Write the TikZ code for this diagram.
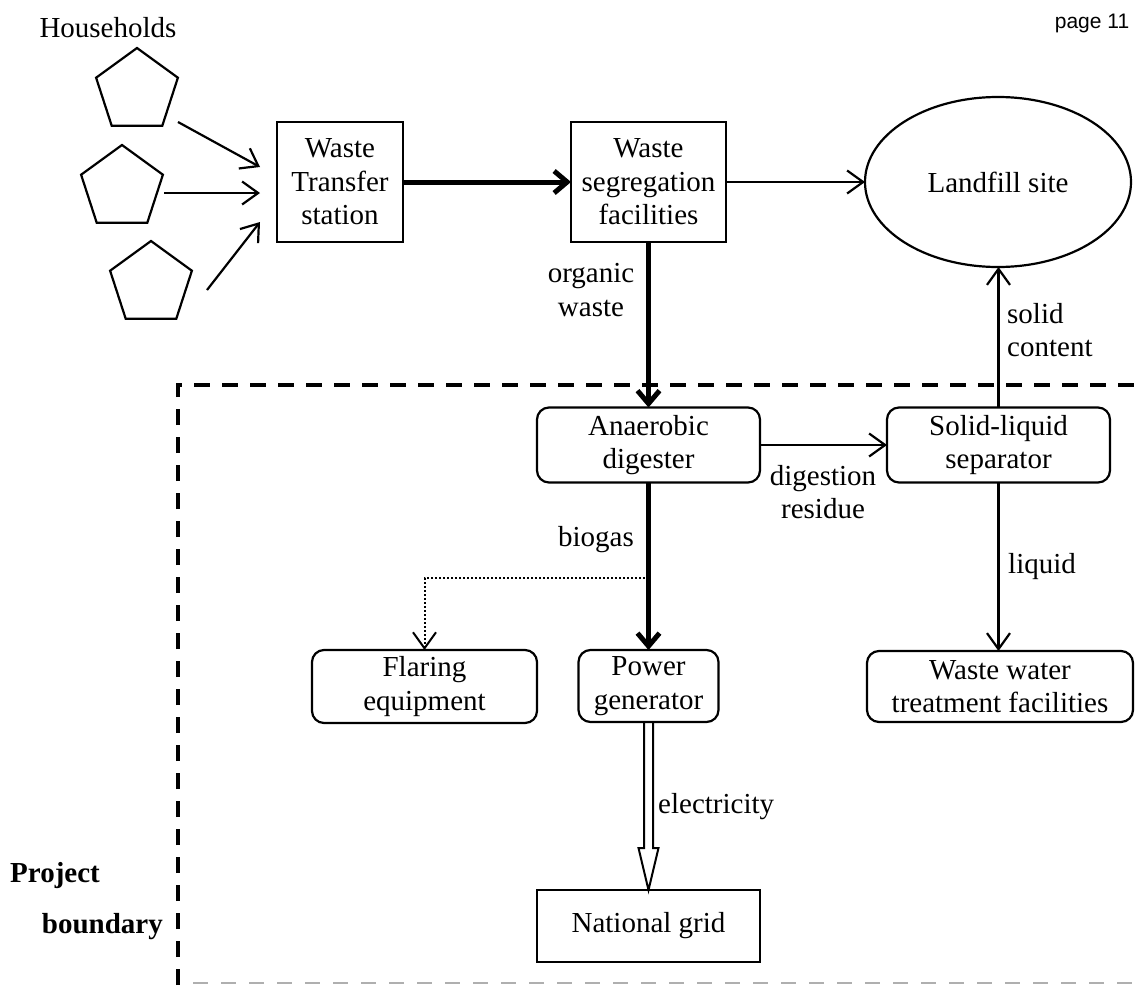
\documentclass[tikz,border=0pt]{standalone}
\usepackage{fontspec}
\setmainfont{Liberation Serif}
\newfontfamily\pagefont{Liberation Sans}
\usetikzlibrary{arrows.meta,shapes.geometric,calc}
\newcommand{\bxfont}{\fontsize{29pt}{33.5pt}\selectfont}
\begin{document}
\begin{tikzpicture}[x=1pt,y=-1pt,
  box/.style={draw, line width=2.2pt, align=center, inner sep=0pt, outer sep=0pt, font=\bxfont},
  rbox/.style={box, rounded corners=12pt},
  house/.style={draw, line width=2.2pt, regular polygon, regular polygon sides=5, minimum size=86pt, inner sep=0pt, outer sep=0pt},
  lbl/.style={align=center, inner sep=0pt, font=\bxfont},
  arr/.style={line width=2.2pt, -{Straight Barb[length=16pt,width=23pt]}},
  bigarr/.style={line width=5pt, -{Straight Barb[length=13pt,width=22pt]}},
  dotarr/.style={line width=2pt, dash pattern=on 2pt off 2pt, -{Straight Barb[length=16pt,width=23pt,line width=2pt]}},
  bound/.style={line width=4.5pt, dash pattern=on 16pt off 12pt},
]
\useasboundingbox (0,0) rectangle (1140,985);

% texts
\node[lbl] (hh) at (108,28) {Households};
\node[inner sep=0pt, font=\pagefont\fontsize{21pt}{24pt}\selectfont] (pg11) at (1092,23) {page 11};

% households
\node[house] (h1) at (137,91) {};
\node[house] (h2) at (122,188) {};
\node[house] (h3) at (151,284) {};

% main nodes
\node[box, minimum width=126pt, minimum height=120pt] (wt) at (340,182) {Waste\\Transfer\\station};
\node[box, minimum width=155pt, minimum height=120pt] (ws) at (648.5,182) {Waste\\segregation\\facilities};
\node[draw, ellipse, line width=2.2pt, minimum width=266pt, minimum height=170pt, inner sep=0pt, outer sep=0pt, font=\bxfont] (lf) at (998,182) {Landfill site};
\node[rbox, minimum width=223pt, minimum height=75pt] (ad) at (648.5,445) {Anaerobic\\digester};
\node[rbox, minimum width=223pt, minimum height=75pt] (sls) at (998.5,445) {Solid-liquid\\separator};
\node[rbox, minimum width=225pt, minimum height=73pt] (fl) at (424.5,686.5) {Flaring\\equipment};
\node[rbox, minimum width=140pt, minimum height=72pt] (pg) at (648.5,686) {Power\\generator};
\node[rbox, minimum width=266pt, minimum height=71pt] (wwt) at (1000,686.5) {Waste water\\treatment facilities};
\node[box, minimum width=223pt, minimum height=72pt] (ng) at (648.5,926) {National grid};

% labels
\node[lbl] (l1) at (591,290) {organic\\waste};
\node[lbl, align=left, anchor=west] (l2) at (1007,330) {solid\\content};
\node[lbl] (l3) at (823,492) {digestion\\residue};
\node[lbl] (l4) at (596,540) {biogas};
\node[lbl, anchor=west] (l5) at (1008,567) {liquid};
\node[lbl, anchor=west] (l6) at (658,807) {electricity};
\node[lbl, anchor=west, font=\bxfont\bfseries] (pb1) at (10,876) {Project};
\node[lbl, anchor=east, font=\bxfont\bfseries] (pb2) at (163,927) {boundary};

% household arrows
\draw[arr] ([shift={(41,31)}]h1.center) -- ([shift={(-17,-15)}]wt.west);
\draw[arr] ([shift={(42,5)}]h2.center) -- ([shift={(-17,11)}]wt.west);
\draw[arr] ([shift={(56,6)}]h3.center) -- ([shift={(-17,40)}]wt.west);

% flows
\draw[bigarr] (wt.east) -- (ws.west);
\draw[arr] (ws.east) -- (lf.west);
\draw[bigarr] (ws.south) -- (ad.north);
\draw[arr] (ad.east) -- (sls.west);
\draw[arr] (sls.north) -- (sls.north |- lf.south);
\draw[arr] (sls.south) -- (sls.south |- wwt.north);
\draw[bigarr] (ad.south) -- (pg.north);
\coordinate (bj) at (648.5,578);
\draw[dotarr] (bj) -| (fl.north);

% electricity hollow arrow
\draw[line width=2pt, line join=miter]
  ([xshift=-4.5pt]pg.south) -- ++(0,126) -- ++(-5.5,0) -- (ng.north)
  -- ++(10,-42) -- ++(-5.5,0) -- ([xshift=4.5pt]pg.south);

% project boundary
\draw[bound] (178,985) -- (178,385) -- (1140,385);
\draw[line width=2pt, draw={rgb,255:red,175;green,175;blue,175}, dash pattern=on 15pt off 13pt] (193,983) -- (1140,983);
\end{tikzpicture}
\end{document}
